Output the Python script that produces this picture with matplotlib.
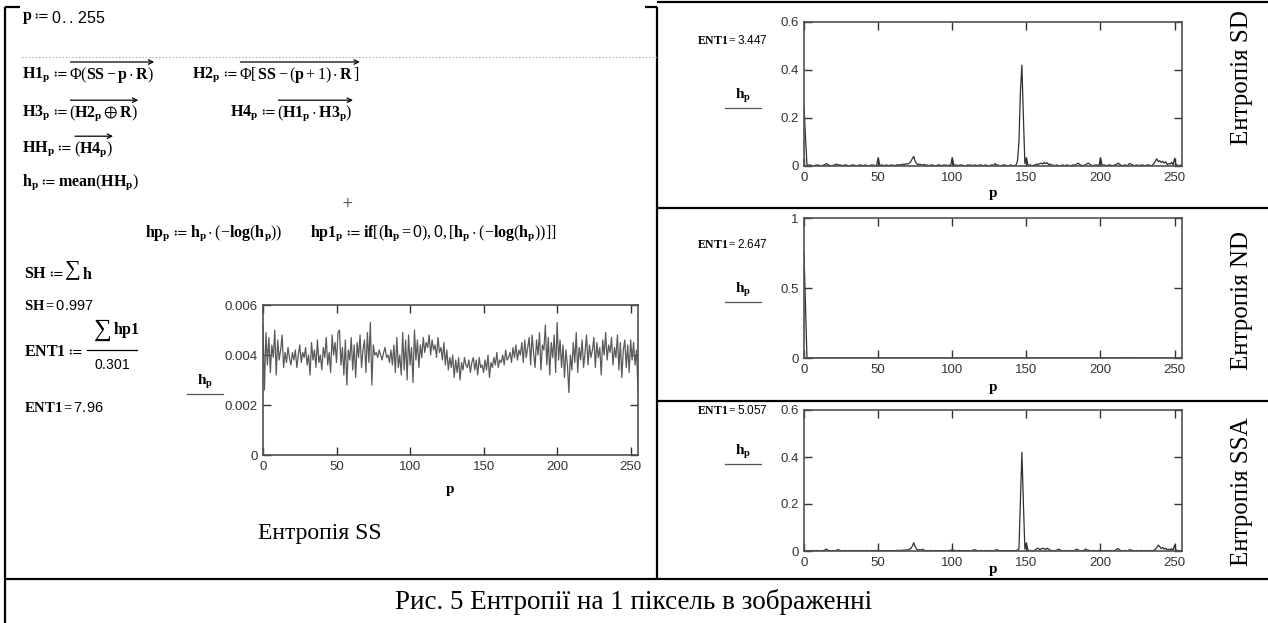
import numpy as np
import matplotlib
matplotlib.use('Agg')
import matplotlib.pyplot as plt

# values, in units of 0.001
p = np.arange(256)

ss_h = [5.2, 2.6, 4.9, 3.6, 4.7, 3.3, 4.4, 3.9, 5.0, 3.2, 4.6, 3.8, 4.2, 4.8, 3.5, 4.1,
        3.7, 4.3, 3.9, 3.6, 4.1, 3.8, 4.2, 3.5, 4.0, 4.4, 3.7, 4.1, 3.9, 4.3, 3.6, 4.0,
        3.2, 4.5, 3.8, 4.2, 3.5, 4.6, 3.7, 4.0, 3.4, 4.3, 3.9, 4.7, 3.6, 4.1, 3.3, 4.8,
        4.0, 4.5, 3.7, 4.9, 5.0, 3.6, 4.3, 3.2, 4.6, 2.8, 4.2, 3.8, 4.7, 3.4, 4.4, 3.1,
        4.5, 3.9, 4.8, 3.5, 4.2, 4.6, 3.3, 4.9, 3.7, 5.3, 2.8, 4.4, 4.0, 4.1, 3.9, 4.2,
        4.0, 3.8, 4.1, 4.3, 3.9, 4.0, 3.7, 4.2, 3.6, 4.4, 3.3, 4.7, 3.5, 4.0, 3.2, 4.9,
        3.4, 4.6, 3.0, 4.8, 3.6, 4.3, 2.9, 5.0, 3.8, 4.6, 3.5, 4.4, 3.9, 4.7, 4.1, 4.5,
        4.3, 4.8, 4.0, 4.6, 4.2, 4.4, 3.9, 4.7, 4.1, 4.3, 3.8, 4.5, 3.6, 4.2, 3.4, 3.9,
        3.5, 4.0, 3.1, 3.8, 3.3, 3.9, 3.0, 3.7, 3.4, 3.9, 3.6, 3.5, 3.8, 3.3, 3.7, 3.9,
        3.4, 3.8, 3.2, 3.9, 3.5, 3.6, 3.3, 3.8, 3.4, 4.0, 3.1, 3.7, 3.5, 3.9, 3.6, 4.1,
        3.5, 3.8, 3.7, 4.0, 3.6, 4.2, 3.8, 3.9, 4.1, 3.7, 4.3, 3.9, 4.4, 3.8, 4.2, 4.0,
        4.5, 3.7, 4.6, 3.9, 4.3, 4.7, 3.6, 4.8, 4.1, 3.5, 4.6, 4.0, 4.9, 3.4, 4.4, 4.2,
        5.2, 3.6, 4.7, 3.2, 4.5, 3.9, 4.8, 3.3, 5.3, 3.8, 4.6, 3.5, 4.4, 3.1, 4.2, 3.6,
        2.5, 4.0, 3.4, 4.5, 3.7, 4.9, 3.3, 4.3, 3.8, 4.6, 3.5, 4.1, 4.8, 3.6, 4.4, 3.9,
        4.2, 4.7, 3.5, 4.5, 3.9, 4.3, 3.2, 4.6, 4.0, 4.9, 3.8, 4.4, 4.1, 4.7, 3.6, 4.3,
        3.9, 4.8, 3.4, 4.5, 3.1, 4.2, 4.6, 3.5, 4.4, 3.3, 4.6, 3.8, 4.5, 3.6, 4.2, 2.6]

sd_h = [250, 120, 4, 4, 4, 3, 0, 0, 4, 4, 4, 0, 0, 4, 5, 10,
        6, 4, 0, 0, 4, 5, 8, 5, 4, 4, 0, 4, 4, 4, 0, 0,
        4, 4, 4, 0, 0, 4, 4, 4, 0, 4, 4, 0, 0, 4, 4, 4,
        0, 4, 35, 4, 4, 4, 0, 4, 4, 0, 4, 4, 4, 0, 4, 5,
        4, 6, 4, 8, 6, 10, 8, 12, 18, 30, 40, 20, 10, 6, 8, 5,
        4, 6, 4, 4, 0, 4, 4, 4, 0, 0, 4, 4, 4, 0, 4, 4,
        4, 0, 4, 4, 35, 4, 4, 4, 0, 4, 4, 4, 0, 0, 4, 4,
        4, 4, 0, 4, 4, 0, 4, 4, 4, 0, 4, 4, 0, 0, 4, 4,
        4, 10, 4, 4, 0, 0, 4, 4, 4, 0, 0, 4, 4, 0, 0, 4,
        20, 100, 310, 420, 205, 10, 35, 6, 4, 4, 0, 4, 4, 8, 6, 10,
        12, 8, 15, 10, 14, 6, 8, 4, 4, 0, 4, 4, 0, 0, 4, 4,
        0, 4, 4, 0, 0, 4, 4, 4, 8, 12, 6, 4, 0, 4, 4, 10,
        12, 6, 4, 0, 4, 4, 4, 0, 35, 6, 4, 4, 0, 4, 4, 4,
        0, 4, 4, 8, 12, 6, 4, 0, 4, 4, 0, 8, 10, 6, 4, 0,
        4, 4, 0, 4, 4, 4, 0, 4, 4, 4, 0, 4, 10, 20, 30, 18,
        22, 15, 20, 12, 18, 6, 10, 8, 15, 5, 32, 4, 4, 0, 4, 0]

nd_h = [750, 380, 0, 0, 0, 0, 0, 0, 0, 0, 0, 0, 0, 0, 0, 0,
        0, 0, 0, 0, 0, 0, 0, 0, 0, 0, 0, 0, 0, 0, 0, 0,
        0, 0, 0, 0, 0, 0, 0, 0, 0, 0, 0, 0, 0, 0, 0, 0,
        0, 0, 0, 0, 0, 0, 0, 0, 0, 0, 0, 0, 0, 0, 0, 0,
        0, 0, 0, 0, 0, 0, 0, 0, 0, 0, 0, 0, 0, 0, 0, 0,
        0, 0, 0, 0, 0, 0, 0, 0, 0, 0, 0, 0, 0, 0, 0, 0,
        0, 0, 0, 0, 0, 0, 0, 0, 0, 0, 0, 0, 0, 0, 0, 0,
        0, 0, 0, 0, 0, 0, 0, 0, 0, 0, 0, 0, 0, 0, 0, 0,
        0, 0, 0, 0, 0, 0, 0, 0, 0, 0, 0, 0, 0, 0, 0, 0,
        0, 0, 0, 0, 0, 0, 0, 0, 0, 0, 0, 0, 0, 0, 0, 0,
        0, 0, 0, 0, 0, 0, 0, 0, 0, 0, 0, 0, 0, 0, 0, 0,
        0, 0, 0, 0, 0, 0, 0, 0, 0, 0, 0, 0, 0, 0, 0, 0,
        0, 0, 0, 0, 0, 0, 0, 0, 0, 0, 0, 0, 0, 0, 0, 0,
        0, 0, 0, 0, 0, 0, 0, 2, 2, 0, 2, 2, 0, 2, 2, 0,
        2, 2, 0, 0, 0, 0, 0, 0, 0, 0, 0, 0, 0, 0, 0, 0,
        0, 0, 0, 0, 0, 0, 0, 0, 0, 0, 0, 0, 0, 0, 0, 0]

ssa_h = [0, 0, 2, 2, 0, 2, 2, 0, 2, 2, 0, 0, 2, 2, 3, 8,
         4, 2, 0, 2, 2, 0, 3, 6, 3, 2, 0, 2, 2, 0, 2, 2,
         0, 2, 2, 0, 2, 2, 0, 2, 2, 0, 2, 2, 0, 2, 2, 0,
         2, 2, 3, 2, 0, 2, 2, 0, 2, 2, 0, 2, 2, 0, 2, 3,
         2, 3, 2, 4, 3, 5, 4, 8, 10, 20, 35, 18, 8, 4, 6, 3,
         8, 3, 2, 2, 0, 2, 2, 0, 2, 2, 0, 2, 2, 0, 2, 2,
         0, 2, 2, 3, 6, 3, 2, 0, 2, 2, 0, 2, 2, 0, 2, 2,
         0, 2, 3, 6, 3, 2, 0, 2, 2, 0, 2, 2, 0, 2, 2, 0,
         2, 3, 6, 3, 2, 0, 2, 2, 0, 2, 2, 0, 2, 2, 0, 2,
         4, 10, 210, 420, 205, 8, 35, 4, 2, 2, 0, 2, 4, 10, 12, 6,
         8, 12, 10, 6, 12, 8, 4, 2, 0, 2, 2, 5, 8, 3, 2, 0,
         2, 2, 0, 2, 2, 0, 2, 3, 8, 4, 2, 0, 2, 3, 8, 4,
         3, 2, 0, 2, 2, 0, 2, 2, 3, 2, 0, 2, 2, 0, 2, 2,
         0, 2, 3, 8, 10, 4, 2, 0, 2, 2, 0, 3, 6, 3, 2, 0,
         2, 2, 0, 2, 2, 0, 2, 2, 0, 2, 2, 0, 3, 8, 15, 25,
         18, 10, 15, 8, 12, 5, 8, 4, 10, 4, 25, 3, 2, 0, 2, 0]

ss_h = np.array(ss_h) / 1000
sd_h = np.array(sd_h) / 1000
nd_h = np.array(nd_h) / 1000
ssa_h = np.array(ssa_h) / 1000

x_ticks = [0, 50, 100, 150, 200, 250]
sh_value = '0.997'
ent_ss, ent_sd, ent_nd, ent_ssa = '7.96', '3.447', '2.647', '5.057'

plt.rcParams['mathtext.fontset'] = 'custom'
plt.rcParams['mathtext.rm'] = 'Liberation Serif'
plt.rcParams['mathtext.bf'] = 'Liberation Serif:bold'
plt.rcParams['mathtext.it'] = 'Liberation Serif:italic'
plt.rcParams['mathtext.sf'] = 'Liberation Sans'
plt.rcParams['mathtext.fallback'] = 'stix'

W, H = 1268, 623
fig = plt.figure(figsize=(W / 100, H / 100), dpi=100)
bg = fig.add_axes([0, 0, 1, 1])
bg.set_xlim(0, W)
bg.set_ylim(H, 0)
bg.axis('off')
rend = fig.canvas.get_renderer()
FS = 11.5


def box(x0, y0, x1, y1):
    return fig.add_axes([x0 / W, 1 - y1 / H, (x1 - x0) / W, (y1 - y0) / H])


def mcad_plot(rect, vals, ymax, yt, ylab, color):
    ax = box(*rect)
    ax.plot(p, vals, color=color, lw=0.9)
    ax.set_xlim(0, 255)
    ax.set_ylim(0, ymax)
    ax.set_xticks(x_ticks)
    ax.set_xticklabels([str(t) for t in x_ticks])
    ax.set_yticks(yt)
    ax.set_yticklabels(ylab)
    ax.tick_params(direction='in', length=6, width=1, top=True, right=True,
                   labelsize=9.5, pad=4, colors='#333333')
    for lb in ax.get_xticklabels() + ax.get_yticklabels():
        lb.set_family('Liberation Sans')
    for s in ax.spines.values():
        s.set_color('#505050')
        s.set_linewidth(1.2)
    ax.patch.set_alpha(0)
    return ax


def hp_label(x, y, w=18):
    bg.text(x, y, r'$\mathbf{h}_{\mathbf{p}}$', fontsize=11, ha='center', va='center')
    bg.plot([x - w, x + w], [y + 12, y + 12], color='#555555', lw=0.9)


def mtext(x, y, s, size=FS, ha='left'):
    return bg.text(x, y, s, fontsize=size, ha=ha, va='center')


def right_of(t):
    return t.get_window_extent(rend).x1


def formula(x, y, lhs, rhs, arrow=False):
    t1 = mtext(x, y, lhs + r'$\ ≔\ $')
    t2 = mtext(right_of(t1) + 2, y, rhs)
    if arrow:
        bb = t2.get_window_extent(rend)
        ya = H - bb.y1 - 3
        bg.annotate('', xy=(bb.x1, ya), xytext=(bb.x0 + 1, ya),
                    arrowprops=dict(arrowstyle='->', lw=0.9, color='k',
                                    shrinkA=0, shrinkB=0, mutation_scale=8))
    return t2


# table borders
lk = dict(color='k', lw=1.6, solid_capstyle='butt')
bg.plot([5, 5], [7, 623], **lk)
bg.plot([5, 20], [7, 7], **lk)
bg.plot([645, 657], [7, 7], **lk)
bg.plot([657, 657], [7, 579], **lk)
bg.plot([657, 1268], [2, 2], **lk)
bg.plot([657, 1268], [208, 208], **lk)
bg.plot([657, 1268], [401, 401], **lk)
bg.plot([5, 1268], [579, 579], **lk)

# Mathcad worksheet
formula(22, 18, r'$\mathbf{p}$', r'$\mathsf{0\,..\,255}$')
bg.plot([22, 657], [57, 57], color='#999999', lw=0.8, ls=(0, (1, 2)))

formula(22, 75, r'$\mathbf{H1}_{\mathbf{p}}$',
        r'$\Phi(\mathbf{SS} - \mathbf{p}\cdot\mathbf{R})$', arrow=True)
formula(192, 75, r'$\mathbf{H2}_{\mathbf{p}}$',
        r'$\Phi[\,\mathbf{SS} - (\mathbf{p} + 1)\cdot\mathbf{R}\,]$', arrow=True)
formula(22, 113, r'$\mathbf{H3}_{\mathbf{p}}$',
        r'$(\mathbf{H2}_{\mathbf{p}} \oplus \mathbf{R})$', arrow=True)
formula(230, 113, r'$\mathbf{H4}_{\mathbf{p}}$',
        r'$(\mathbf{H1}_{\mathbf{p}}\cdot\mathbf{H3}_{\mathbf{p}})$', arrow=True)
formula(22, 149, r'$\mathbf{HH}_{\mathbf{p}}$', r'$(\mathbf{H4}_{\mathbf{p}})$', arrow=True)
formula(22, 182, r'$\mathbf{h}_{\mathbf{p}}$', r'$\mathbf{mean}(\mathbf{HH}_{\mathbf{p}})$')
bg.text(347, 203, '+', fontsize=10, color='#555555', ha='center', va='center')

formula(145, 233, r'$\mathbf{hp}_{\mathbf{p}}$',
        r'$\mathbf{h}_{\mathbf{p}}\cdot(-\mathbf{log}(\mathbf{h}_{\mathbf{p}}))$')
formula(310, 233, r'$\mathbf{hp1}_{\mathbf{p}}$',
        r'$\mathbf{if}[(\mathbf{h}_{\mathbf{p}} = \mathsf{0}),\mathsf{0},[\mathbf{h}_{\mathbf{p}}\cdot(-\mathbf{log}(\mathbf{h}_{\mathbf{p}}))]]$')

t = mtext(24, 273, r'$\mathbf{SH}\ ≔\ $')
t = mtext(right_of(t), 271, r'$\sum$', size=16)
mtext(right_of(t) + 2, 274, r'$\mathbf{h}$')
mtext(24, 305, r'$\mathbf{SH} = \mathsf{' + sh_value + '}$', size=10.5)

t = mtext(24, 352, r'$\mathbf{ENT1}\ ≔\ $')
xf = right_of(t) + 4
t = mtext(xf + 6, 330, r'$\sum$', size=18)
mtext(right_of(t) + 2, 330, r'$\mathbf{hp1}$')
bg.plot([xf, xf + 50], [350, 350], color='k', lw=0.9)
mtext(xf + 25, 365, r'$\mathsf{0.301}$', ha='center', size=10)
mtext(24, 407, r'$\mathbf{ENT1} = \mathsf{' + ent_ss + '}$', size=10.5)

# SS plot
mcad_plot((263, 305, 638, 455), ss_h, 0.006, [0, 0.002, 0.004, 0.006],
          ['0', '0.002', '0.004', '0.006'], '#5a5a5a')
hp_label(205, 382)
bg.text(450, 490, 'p', fontsize=11, fontweight='bold', family='Liberation Serif',
        ha='center', va='center')
bg.text(320, 533, 'Ентропія SS', fontsize=17, family='Liberation Serif',
        ha='center', va='center')

# right column
panels = [
    ((804, 22, 1182, 166), sd_h, 0.6, [0, 0.2, 0.4, 0.6], ['0', '0.2', '0.4', '0.6'],
     ent_sd, 40, 96, 194, 'Ентропія SD', 78),
    ((804, 218, 1182, 358), nd_h, 1.0, [0, 0.5, 1.0], ['0', '0.5', '1'],
     ent_nd, 244, 290, 388, 'Ентропія ND', 300),
    ((804, 410, 1182, 551), ssa_h, 0.6, [0, 0.2, 0.4, 0.6], ['0', '0.2', '0.4', '0.6'],
     ent_ssa, 411, 452, 569, 'Ентропія SSA', 492),
]
for rect, vals, ymax, yt, ylab, ent, ey, hy, py, title, ty in panels:
    mcad_plot(rect, vals, ymax, yt, ylab, '#303030')
    mtext(697, ey, r'$\mathbf{ENT1} = \mathsf{' + ent + '}$', size=8.5)
    hp_label(743, hy)
    bg.text((rect[0] + rect[2]) / 2, py, 'p', fontsize=11, fontweight='bold',
            family='Liberation Serif', ha='center', va='center')
    bg.text(1242, ty, title, fontsize=18, family='Liberation Serif', rotation=90,
            ha='center', va='center')

bg.text(634, 602, 'Рис. 5 Ентропії на 1 піксель в зображенні', fontsize=19.5,
        family='Liberation Serif', ha='center', va='center')

fig.savefig('out.png', dpi=100)
